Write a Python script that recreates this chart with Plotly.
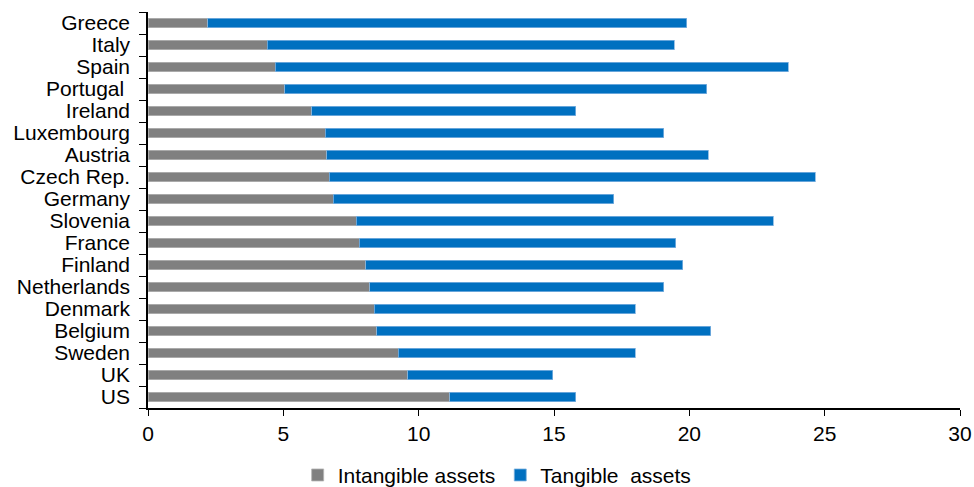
import plotly.graph_objects as go

# Countries, listed top to bottom as drawn
countries = ["Greece", "Italy", "Spain", "Portugal ", "Ireland", "Luxembourg", "Austria",
             "Czech Rep.", "Germany", "Slovenia", "France", "Finland", "Netherlands",
             "Denmark", "Belgium", "Sweden", "UK", "US"]

# Investment shares (% of GDP)
intangible = [2.2, 4.4, 4.7, 5.05, 6.05, 6.55, 6.6, 6.7, 6.85, 7.7, 7.8, 8.05, 8.2,
              8.35, 8.45, 9.25, 9.6, 11.15]
total = [19.9, 19.45, 23.65, 20.65, 15.8, 19.05, 20.7, 24.65, 17.2, 23.1, 19.5, 19.75, 19.05,
         18.0, 20.8, 18.0, 14.95, 15.8]
tangible = [round(t - i, 2) for t, i in zip(total, intangible)]

x_ticks = [0, 5, 10, 15, 20, 25, 30]

fig = go.Figure()
fig.add_trace(go.Bar(
    y=countries, x=intangible, orientation="h", name="Intangible assets",
    marker=dict(color="#808080", line=dict(color="#b4b4b4", width=0.8)),
))
fig.add_trace(go.Bar(
    y=countries, x=tangible, orientation="h", name="Tangible  assets",
    marker=dict(color="#0070C0", line=dict(color="#7fb3e0", width=0.8)),
))

fig.update_layout(
    barmode="stack",
    bargap=0.56,
    width=974, height=487,
    margin=dict(l=148, r=14, t=12, b=79, autoexpand=False),
    paper_bgcolor="white", plot_bgcolor="white",
    font=dict(family="Liberation Sans, Arial, sans-serif", size=21, color="#000000"),
    showlegend=True,
    legend=dict(orientation="h", x=0.43, xanchor="center", y=-0.17, yanchor="middle",
                font=dict(size=21), traceorder="normal", itemwidth=30,
                tracegroupgap=0),
)
fig.update_xaxes(
    range=[0, 30], tickvals=x_ticks, showgrid=False, zeroline=False,
    showline=True, linecolor="#000000", linewidth=1.5,
    ticks="outside", ticklen=6, tickcolor="#000000", tickwidth=1,
    tickfont=dict(size=21),
)
fig.update_yaxes(
    autorange="reversed", categoryorder="array", categoryarray=countries,
    tickmode="array", tickvals=countries, ticktext=countries,
    showgrid=False, showline=True, linecolor="#000000", linewidth=1.5,
    ticks="outside", ticklen=7, tickcolor="#000000", tickwidth=1,
    tickson="boundaries", ticklabelstandoff=12,
    tickfont=dict(size=21),
)

fig.write_html("out.html")
